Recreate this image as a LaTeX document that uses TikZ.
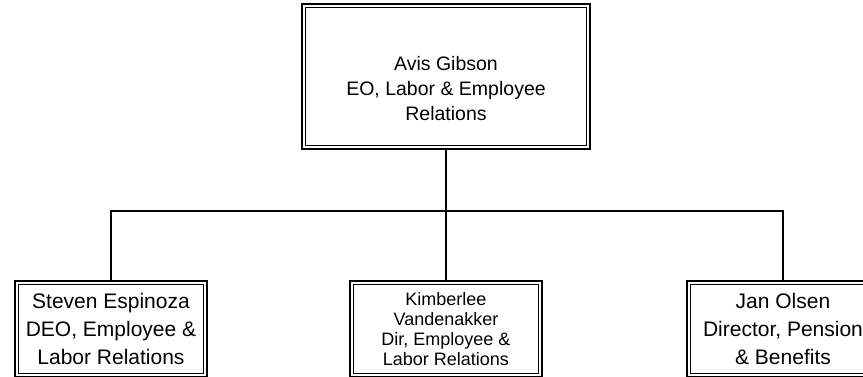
\documentclass[tikz,border=0pt]{standalone}
\usepackage{fontspec}
\setmainfont{Liberation Sans}
\usetikzlibrary{positioning}

\begin{document}
\begin{tikzpicture}[x=1pt, y=-1pt,
	box/.style={draw, line width=2.2pt, inner sep=0pt, align=center, minimum width=192pt, minimum height=96pt},
	link/.style={line width=1.4pt}]
	\useasboundingbox (0,0) rectangle (863,376);
	\clip (0,0) rectangle (863,376);

	% head of the unit
	\node[box, minimum width=288pt, minimum height=145pt] (avis) at (446,76.5) {};
	\node[align=center, inner sep=0pt, font=\fontsize{19.5}{25}\selectfont] (avistext) at ([yshift=-12pt]avis.center)
	  {Avis Gibson\\EO, Labor \& Employee\\Relations};

	% direct reports
	\node[box, font=\fontsize{21}{28}\selectfont] (steven) at (111,329)
	  {Steven Espinoza\\DEO, Employee \&\\Labor Relations};
	\node[box, font=\fontsize{18}{20}\selectfont] (kim) at (446,329)
	  {Kimberlee\\Vandenakker\\Dir, Employee \&\\Labor Relations};
	\node[box, font=\fontsize{21}{28}\selectfont] (jan) at (783,329)
	  {Jan Olsen\\Director, Pension\\\& Benefits};

	% inner frame of each box
	\foreach \n in {avis, steven, kim, jan}
	  \draw[line width=1.2pt] ([shift={(4.5,4.5)}]\n.north west) rectangle ([shift={(-4.5,-4.5)}]\n.south east);

	\coordinate (bus) at (446,211);
	\draw[link] (avis.south) -- (bus);
	\draw[link] (steven.north) |- (bus) -| (jan.north);
	\draw[link] (kim.north) -- (kim.north |- bus);
\end{tikzpicture}
\end{document}
